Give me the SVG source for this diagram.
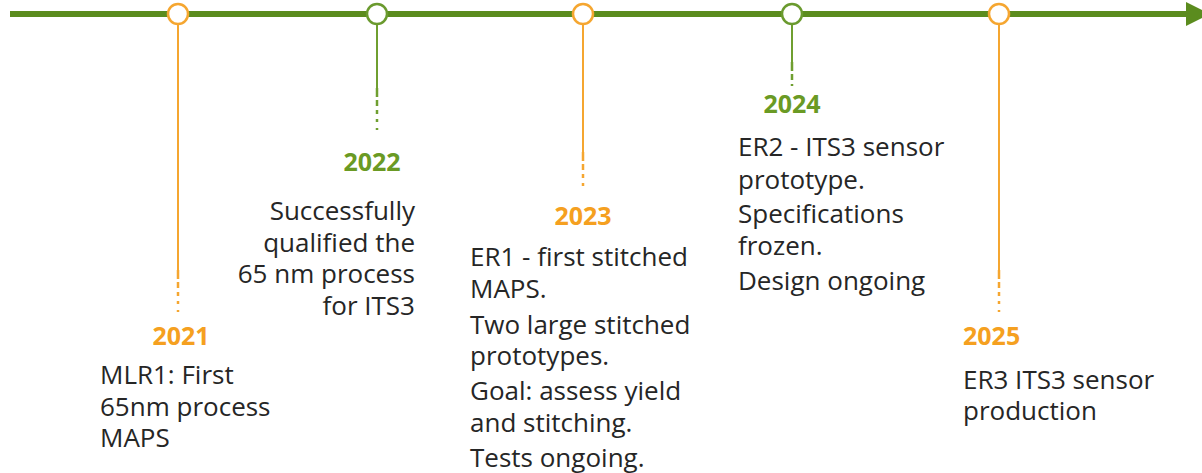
<svg xmlns="http://www.w3.org/2000/svg" width="1202" height="473" viewBox="0 0 1202 473">
<style>
.body{font-family:"Open Sans","Liberation Sans",sans-serif;font-size:26px;fill:#262626}
.yr{font-family:"Open Sans","Liberation Sans",sans-serif;font-size:25px;font-weight:bold}
.o{fill:#f5a020}.g{fill:#6a9a24}
.lo{stroke:#f5a630;stroke-width:2;fill:none}
.lg{stroke:#6f9f30;stroke-width:2;fill:none}
.dash{stroke-dasharray:9 3 6 4 4 5 3 6 2 40;stroke-width:2.5}
.co{fill:#fff;stroke:#f5a630;stroke-width:2.5}
.cg{fill:#fff;stroke:#6a9a2e;stroke-width:2.5}
</style>
<defs>
<marker id="arr" markerWidth="4" markerHeight="4" refX="1" refY="2" orient="auto" markerUnits="strokeWidth">
<path d="M0,0 L4,2 L0,4 Z" fill="#5b8c1e"/>
</marker>
</defs>
<g id="connectors">
<line x1="10" y1="14" x2="1192" y2="14" stroke="#5b8c1e" stroke-width="6" marker-end="url(#arr)"/>
<line class="lo" x1="178" y1="25" x2="178" y2="270"/>
<line class="lo dash" x1="178" y1="270" x2="178" y2="312"/>
<line class="lg" x1="377" y1="25" x2="377" y2="88"/>
<line class="lg dash" x1="377" y1="88" x2="377" y2="135"/>
<line class="lo" x1="583" y1="25" x2="583" y2="152"/>
<line class="lo dash" x1="583" y1="152" x2="583" y2="192"/>
<line class="lg" x1="792" y1="25" x2="792" y2="62"/>
<line class="lg dash" x1="792" y1="62" x2="792" y2="86"/>
<line class="lo" x1="999" y1="25" x2="999" y2="270"/>
<line class="lo dash" x1="999" y1="270" x2="999" y2="312"/>
</g>
<g id="node-2021">
<circle class="co" cx="178" cy="14" r="10"/>
<text class="yr o" x="181" y="345" text-anchor="middle">2021</text>
<text class="body" x="100"><tspan x="100" y="384">MLR1: First</tspan><tspan x="100" y="416">65nm process</tspan><tspan x="100" y="447">MAPS</tspan></text>
</g>
<g id="node-2022">
<circle class="cg" cx="377" cy="14" r="10"/>
<text class="yr g" x="372" y="171" text-anchor="middle">2022</text>
<text class="body" text-anchor="end"><tspan x="415" y="220">Successfully</tspan><tspan x="415" y="252">qualified the</tspan><tspan x="415" y="283">65 nm process</tspan><tspan x="415" y="315">for ITS3</tspan></text>
</g>
<g id="node-2023">
<circle class="co" cx="583" cy="14" r="10"/>
<text class="yr o" x="583" y="225" text-anchor="middle">2023</text>
<text class="body"><tspan x="470" y="266">ER1 - first stitched</tspan><tspan x="470" y="298">MAPS.</tspan><tspan x="470" y="334">Two large stitched</tspan><tspan x="470" y="365">prototypes.</tspan><tspan x="470" y="400">Goal: assess yield</tspan><tspan x="470" y="432">and stitching.</tspan><tspan x="470" y="467">Tests ongoing.</tspan></text>
</g>
<g id="node-2024">
<circle class="cg" cx="792" cy="14" r="10"/>
<text class="yr g" x="792" y="113" text-anchor="middle">2024</text>
<text class="body"><tspan x="738" y="156">ER2 - ITS3 sensor</tspan><tspan x="738" y="189">prototype.</tspan><tspan x="738" y="223">Specifications</tspan><tspan x="738" y="255">frozen.</tspan><tspan x="738" y="290">Design ongoing</tspan></text>
</g>
<g id="node-2025">
<circle class="co" cx="999" cy="14" r="10"/>
<text class="yr o" x="963" y="345">2025</text>
<text class="body"><tspan x="963" y="389">ER3 ITS3 sensor</tspan><tspan x="963" y="420">production</tspan></text>
</g>
</svg>
